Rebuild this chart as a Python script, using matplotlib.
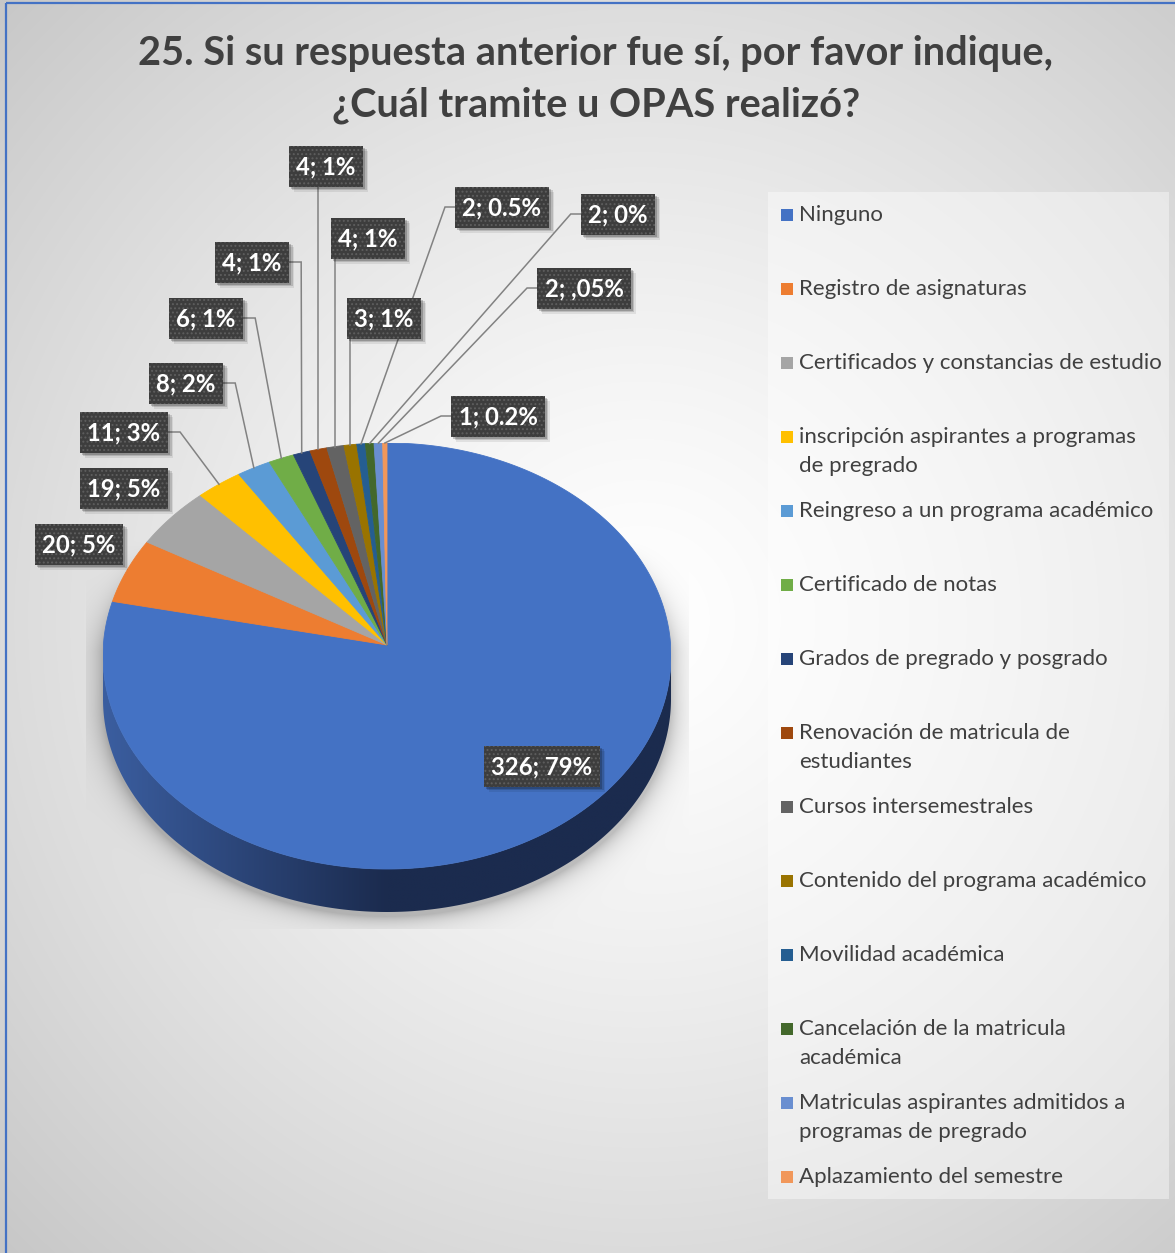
import numpy as np
import matplotlib
matplotlib.use("Agg")
import matplotlib.pyplot as plt
from matplotlib.patches import Rectangle, Polygon
from matplotlib.colors import to_rgb

# ---------------- data ----------------
categories = [
    "Ninguno",
    "Registro de asignaturas",
    "Certificados y constancias de estudio",
    "inscripción aspirantes a programas\nde pregrado",
    "Reingreso a un programa académico",
    "Certificado de notas",
    "Grados de pregrado y posgrado",
    "Renovación de matricula de\nestudiantes",
    "Cursos intersemestrales",
    "Contenido del programa académico",
    "Movilidad académica",
    "Cancelación de la matricula\nacadémica",
    "Matriculas aspirantes admitidos a\nprogramas de pregrado",
    "Aplazamiento del semestre",
]
values = [326, 20, 19, 11, 8, 6, 4, 4, 4, 3, 2, 2, 2, 1]
pct_labels = ["79%", "5%", "5%", "3%", "2%", "1%", "1%", "1%", "1%", "1%",
              "0.5%", "0%", ",05%", "0.2%"]
colors = ["#4472C4", "#ED7D31", "#A5A5A5", "#FFC000", "#5B9BD5", "#70AD47",
          "#264478", "#9E480E", "#636363", "#997300", "#255E91", "#43682B",
          "#698ED0", "#F1975A"]
title_lines = ["25. Si su respuesta anterior fue sí, por favor indique,",
               "¿Cuál tramite u OPAS realizó?"]

# ---------------- layout (pixels, y downward) ----------------
W, H = 1175, 1253
CX, CY, RA, RB, DEPTH = 387, 656, 284, 213, 43
APEX_LIFT = 11          # perspective: the pie centre sits a little above the rim's centre
label_pos = [(542, 766), (79, 544), (124, 488), (124, 432), (186, 383),
             (206, 318), (252, 262), (326, 166), (368, 238), (384, 318),
             (502, 207), (618, 214), (584, 288), (498, 416)]
label_attach = [None, None, None, "right", "right", "right", "right",
                "bottom", "bottom", "bottom", "left", "left", "left", "left"]

FONT = ["Lato", "DejaVu Sans"]
TXT = "#404040"
plt.rcParams["font.family"] = FONT
plt.rcParams["hatch.color"] = "#5e5e5e"
plt.rcParams["hatch.linewidth"] = 0.9

fig = plt.figure(figsize=(W / 100, H / 100), dpi=100)

# ---------------- background with soft gradient, panel and pie shadow ----------------
bg_ax = fig.add_axes([0, 0, 1, 1])
bg_ax.set_axis_off()
yy, xx = np.mgrid[0:H, 0:W].astype(float)
r = np.hypot(xx - 640, yy - 620) / 900
v = 1 - 0.22 * np.clip(r, 0, 1.3) ** 1.3
panel = (xx >= 768) & (xx <= 1168) & (yy >= 192) & (yy <= 1198)
v = np.where(panel, v + 0.4 * (1 - v), v)

ey = yy - CY
ey = np.where(ey > DEPTH, ey - DEPTH, np.where(ey > 0, 0, ey))
q = np.hypot((xx - CX) / RA, (ey - 4) / RB)
dist = (q - 1) * 240
shade = np.where(dist > 0, np.exp(-dist / 10.0), 1.0) * 0.22
ramp = np.clip((yy - 540) / 110.0, 0, 1)
clip = (xx >= 86) & (yy <= 928) & (xx <= 688)
v = np.where(clip, v - shade * ramp, v)
bg_ax.imshow(np.dstack([v, v, v]).clip(0, 1), extent=(0, W, H, 0),
             aspect="auto", interpolation="bilinear")
bg_ax.set_xlim(0, W)
bg_ax.set_ylim(H, 0)

# ---------------- pie (top face + front side) ----------------
top_px, bot_px = CY - RB, CY + RB + DEPTH
ax = fig.add_axes([(CX - RA) / W, (H - bot_px) / H, 2 * RA / W, (bot_px - top_px) / H])
du = DEPTH / RB
apex = (0.0, APEX_LIFT / RB)

total = float(sum(values))
bounds = np.concatenate([[0], np.cumsum(values)]) / total
for k, col in enumerate(colors):
    a0 = np.deg2rad(90 - 360 * bounds[k])
    a1 = np.deg2rad(90 - 360 * bounds[k + 1])
    n = max(4, int(abs(a1 - a0) * 120))
    tt = np.linspace(a0, a1, n)
    pts = np.vstack([[apex], np.c_[np.cos(tt), np.sin(tt)]])
    ax.add_patch(Polygon(pts, closed=True, facecolor=col, edgecolor=col,
                         linewidth=0.6, zorder=2))

t = np.linspace(0, -np.pi, 300)
side_xy = np.concatenate([np.c_[np.cos(t), np.sin(t)],
                          np.c_[np.cos(t[::-1]), np.sin(t[::-1]) - du]])
side = Polygon(side_xy, closed=True, facecolor="none", edgecolor="none")
ax.add_patch(side)
gx = np.linspace(-1, 1, 500)
c_left = np.array(to_rgb("#3b5ea0"))
c_dark = np.array(to_rgb("#1b2b4e"))
f = np.clip((gx + 1) / 1.0, 0, 1)[:, None]
grad = c_left[None, :] * (1 - f) + c_dark[None, :] * f
im = ax.imshow(np.repeat(grad[None, :, :], 2, axis=0), extent=(-1, 1, -1 - du, 1),
               aspect="auto", interpolation="bilinear", zorder=1)
im.set_clip_path(side)
ax.set_aspect("auto")
ax.set_xlim(-1, 1)
ax.set_ylim(-1 - du, 1)
ax.set_axis_off()

# ---------------- overlay in pixel coordinates ----------------
ov = fig.add_axes([0, 0, 1, 1], zorder=5)
ov.set_xlim(0, W)
ov.set_ylim(H, 0)
ov.set_axis_off()
ov.patch.set_alpha(0)
renderer = fig.canvas.get_renderer()


def fit_size(text, target_w, weight="normal", base=20.0):
    tt_ = ov.text(0, 0, text, fontsize=base, weight=weight)
    wpx = tt_.get_window_extent(renderer).width
    tt_.remove()
    return base * target_w / wpx


def text_width(tt_):
    return tt_.get_window_extent(renderer).width


# title
tsize = fit_size(title_lines[0], 918, weight="bold")
for line, yc in zip(title_lines, [53, 105]):
    ov.text(596, yc, line, fontsize=tsize, weight="bold", color=TXT,
            ha="center", va="center")

# legend
lsize = fit_size("Certificados y constancias de estudio", 362)
for i, (name, col) in enumerate(zip(categories, colors)):
    y0 = 215 + 74 * i
    ov.add_patch(Rectangle((781, y0 - 6), 12, 12, facecolor=col, edgecolor="none"))
    for k, part in enumerate(name.split("\n")):
        ov.text(799, y0 + 29 * k, part, fontsize=lsize, color=TXT,
                ha="left", va="center")

# anchors on the pie rim at each slice's mid angle
anchors = []
for k in range(len(values)):
    ang = np.deg2rad(90 - 360 * (bounds[k] + bounds[k + 1]) / 2)
    dx, dy = ax.transData.transform((np.cos(ang), np.sin(ang)))
    anchors.append((dx, H - dy))

# data labels
dsize = fit_size("326; 79%", 101, weight="bold")
BH = 41
for i, (val, pct) in enumerate(zip(values, pct_labels)):
    xc, yc = label_pos[i]
    txt = ov.text(xc, yc + 1, f"{val}; {pct}", fontsize=dsize, weight="bold",
                  color="white", ha="center", va="center", zorder=6)
    bw = text_width(txt) + 15
    x0, y0 = xc - bw / 2, yc - BH / 2
    for off, al in [(5, 0.08), (3.5, 0.14), (2, 0.2)]:
        ov.add_patch(Rectangle((x0 + off, y0 + off), bw, BH, facecolor="black",
                               edgecolor="none", alpha=al, zorder=3))
    ov.add_patch(Rectangle((x0, y0), bw, BH, facecolor="#3d3d3d", hatch="....",
                           linewidth=0, zorder=4))
    mode = label_attach[i]
    axp, ayp = anchors[i]
    if mode == "right":
        pts = [(x0 + bw, yc), (x0 + bw + 12, yc), (axp, ayp)]
    elif mode == "left":
        pts = [(x0, yc), (x0 - 10, yc), (axp, ayp)]
    elif mode == "bottom":
        pts = [(axp, y0 + BH), (axp, ayp)]
    else:
        continue
    px, py = zip(*pts)
    ov.plot(px, py, color="#828282", lw=1.1, zorder=2, solid_joinstyle="miter")

# chart border
ov.add_patch(Rectangle((6, 3), W + 10, H + 10, fill=False, edgecolor="#4472C4",
                       linewidth=1.6, zorder=10))

fig.savefig("out.png", dpi=100)
